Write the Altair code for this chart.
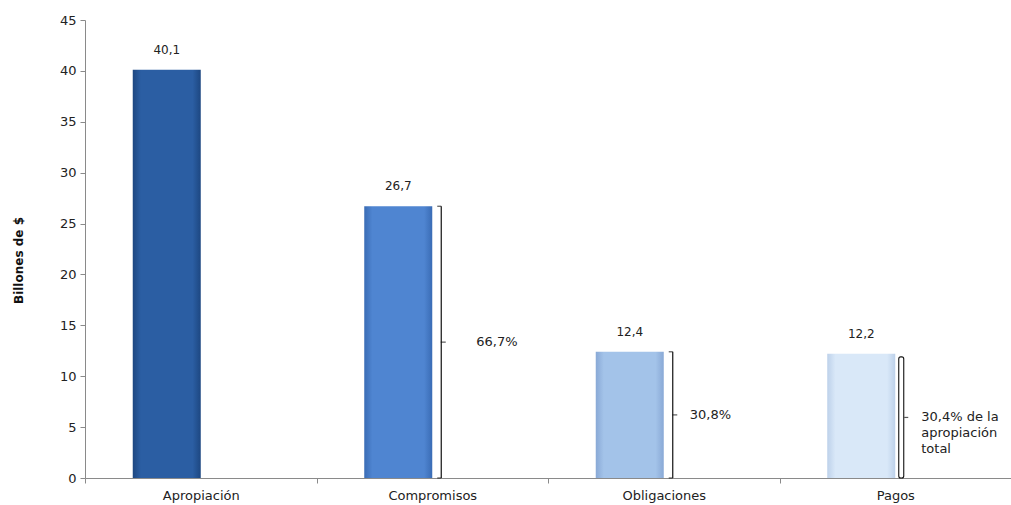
import altair as alt
import pandas as pd

# ---- data ----
categories = ["Apropiación", "Compromisos", "Obligaciones", "Pagos"]
values = [40.1, 26.7, 12.4, 12.2]
value_labels = ["40,1", "26,7", "12,4", "12,2"]

bracket_categories = ["Compromisos", "Obligaciones", "Pagos"]
bracket_tops = [26.7, 12.4, 11.9]
pct_labels = ["66,7%", "30,8%", "30,4% de la\napropiación\ntotal"]

y_ticks = [0, 5, 10, 15, 20, 25, 30, 35, 40, 45]

# ---- styles ----
bar_center_colors = ["#2B5EA3", "#4F85D1", "#A3C3E9", "#D9E8F8"]
bar_edge_colors = ["#1D4781", "#3A6CB5", "#89A9D6", "#BDD1EA"]
FONT = "DejaVu Sans"
INK = "#111111"

bars_df = pd.DataFrame({"cat": categories, "val": values, "lab": value_labels})
br_df = pd.DataFrame({
    "cat": bracket_categories,
    "top": bracket_tops,
    "zero": [0.0] * len(bracket_categories),
    "pct": pct_labels,
})
br_df["mid"] = br_df["top"] / 2

x_enc = alt.X(
    "cat:N",
    sort=categories,
    scale=alt.Scale(domain=categories, paddingInner=0, paddingOuter=0),
    axis=alt.Axis(
        title=None,
        labelAngle=0,
        tickBand="extent",
        tickSize=5,
        tickColor="#8a8a8a",
        domainColor="#8a8a8a",
        labelFont=FONT,
        labelFontSize=13,
        labelColor="#222222",
        labelPadding=6,
    ),
)
y_scale = alt.Scale(domain=[0, 45], nice=False)

layers = []

# bars, each with its own horizontal gradient
for i, c in enumerate(categories):
    grad = alt.Gradient(
        gradient="linear", x1=0, x2=1, y1=0, y2=0,
        stops=[
            alt.GradientStop(offset=0, color=bar_edge_colors[i]),
            alt.GradientStop(offset=0.12, color=bar_center_colors[i]),
            alt.GradientStop(offset=0.88, color=bar_center_colors[i]),
            alt.GradientStop(offset=1, color=bar_edge_colors[i]),
        ],
    )
    layers.append(
        alt.Chart(bars_df)
        .transform_filter(alt.datum.cat == c)
        .mark_bar(width=68, xOffset=-34, fill=grad)
        .encode(
            x=x_enc,
            y=alt.Y(
                "val:Q",
                scale=y_scale,
                axis=alt.Axis(
                    values=y_ticks,
                    title="Billones de $",
                    grid=False,
                    tickSize=5,
                    tickColor="#8a8a8a",
                    domainColor="#8a8a8a",
                    labelFont=FONT,
                    labelFontSize=13,
                    labelColor="#222222",
                    labelPadding=4,
                    titleFont=FONT,
                    titleFontSize=12,
                    titleFontWeight="bold",
                    titleColor=INK,
                    titleX=-60,
                    titleY=240,
                ),
            ),
        )
    )

# value labels above bars
layers.append(
    alt.Chart(bars_df)
    .mark_text(xOffset=-34, dy=-16, baseline="alphabetic", font=FONT, fontSize=12, color="#222222")
    .encode(x=x_enc, y=alt.Y("val:Q", scale=y_scale), text="lab:N")
)

# square brackets (Compromisos, Obligaciones)
sq = alt.Chart(br_df).transform_filter(alt.datum.cat != "Pagos")
layers.append(
    sq.mark_rule(xOffset=9, color=INK, strokeWidth=1.2)
    .encode(x=x_enc, y=alt.Y("zero:Q", scale=y_scale), y2="top:Q")
)
for field in ["top", "zero"]:
    layers.append(
        sq.mark_tick(xOffset=7, size=4, thickness=1.2, orient="horizontal", color=INK)
        .encode(x=x_enc, y=alt.Y(f"{field}:Q", scale=y_scale))
    )
layers.append(
    sq.mark_tick(xOffset=11, size=5, thickness=1.2, orient="horizontal", color=INK)
    .encode(x=x_enc, y=alt.Y("mid:Q", scale=y_scale))
)

# rounded bracket (Pagos) drawn as a narrow outlined bar
pg = alt.Chart(br_df).transform_filter(alt.datum.cat == "Pagos")
layers.append(
    pg.mark_bar(width=5, xOffset=6, fill="white", stroke=INK, strokeWidth=1.1, cornerRadius=2)
    .encode(x=x_enc, y=alt.Y("zero:Q", scale=y_scale), y2="top:Q")
)
layers.append(
    pg.mark_tick(xOffset=11, size=4, thickness=1.2, orient="horizontal", color=INK)
    .encode(x=x_enc, y=alt.Y("mid:Q", scale=y_scale))
)

# percentage labels
layers.append(
    alt.Chart(br_df)
    .transform_filter(alt.datum.cat == "Compromisos")
    .mark_text(align="left", baseline="middle", xOffset=44, font=FONT, fontSize=13, color="#222222")
    .encode(x=x_enc, y=alt.Y("mid:Q", scale=y_scale), text="pct:N")
)
layers.append(
    alt.Chart(br_df)
    .transform_filter(alt.datum.cat != "Compromisos")
    .mark_text(align="left", baseline="middle", xOffset=26, lineBreak="\n", lineHeight=16,
               font=FONT, fontSize=13, color="#222222")
    .encode(x=x_enc, y=alt.Y("mid:Q", scale=y_scale), text="pct:N")
)

chart = (
    alt.layer(*layers)
    .properties(
        width=926,
        height=458,
        autosize=alt.AutoSizeParams(type="none"),
        padding={"left": 85, "top": 20, "right": 0, "bottom": 27},
        background="white",
    )
    .configure_view(stroke=None)
)

chart.save("out.html", embed_options={"renderer": "svg", "actions": False})
